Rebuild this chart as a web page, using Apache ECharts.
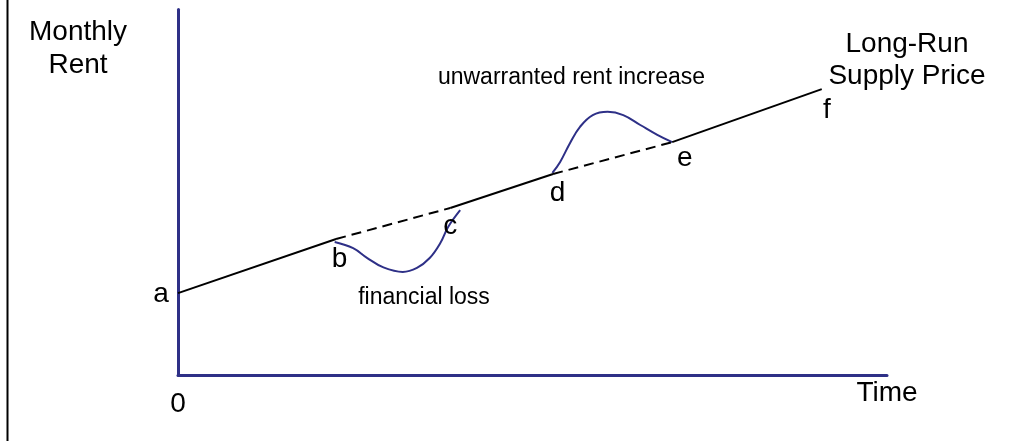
<!DOCTYPE html>
<html>
<head>
<meta charset="utf-8">
<title>Long-Run Supply Price</title>
<script src="https://cdn.jsdelivr.net/npm/echarts@6/dist/echarts.min.js"></script>
<style>
  html, body { margin: 0; padding: 0; background: #fff; }
  #chart { width: 1021px; height: 441px; }
</style>
</head>
<body>
<div id="chart"></div>
<script>
// long-run supply price line: points a..f (time, rent)
const pointNames = ["a", "b", "c", "d", "e", "f"];
const mainX = [0, 22.3, 38.4, 52.9, 69.7, 90.8];
const mainY = [22.4, 37.2, 45.7, 55.0, 63.7, 78.2];

// dip between b and c (financial loss)
const lossX = [22.1, 24.7, 26.7, 28.9, 31.7, 33.7, 35.5, 37.0, 38.1, 39.8];
const lossY = [36.4, 34.7, 32.0, 29.5, 28.2, 29.3, 32.0, 36.1, 40.5, 45.1];

// hump between d and e (unwarranted rent increase)
const riseX = [52.8, 53.9, 55.3, 56.7, 58.5, 60.6, 62.8, 65.2, 67.6, 69.7];
const riseY = [55.3, 58.3, 63.5, 67.9, 71.1, 72.0, 71.1, 68.4, 65.7, 63.7];

const FONT = "'Liberation Sans', Arial, sans-serif";
const NAVY = "#2e3087";

// where each letter sits relative to its point (px)
const LETTER_OFFSETS = [[-17, 1], [3.5, 20], [0, 18], [4.5, 19], [12.5, 16.5], [5, 21]];

const zip = (xs, ys) => xs.map((x, i) => [x, ys[i]]);

function segmentSeries() {
  let out = [];
  for (let i = 0; i < mainX.length - 1; i++) {
    out.push({
      name: "supply " + pointNames[i] + pointNames[i + 1],
      type: "line",
      data: [[mainX[i], mainY[i]], [mainX[i + 1], mainY[i + 1]]],
      showSymbol: false,
      silent: true,
      lineStyle: {
        color: "#000",
        width: 2,
        type: i % 2 === 1 ? [10, 6] : "solid",
      },
      z: 3,
    });
  }
  return out;
}

let myChart = echarts.init(document.getElementById("chart"), null, { renderer: "canvas" });

let option = {
  animation: false,
  grid: { left: 178, right: 134, top: 9.5, bottom: 66, containLabel: false },
  xAxis: {
    type: "value",
    min: 0,
    max: 100,
    interval: 100,
    name: "Time",
    nameLocation: "end",
    nameGap: 0,
    nameTextStyle: {
      fontFamily: FONT,
      fontSize: 28,
      color: "#000",
      align: "center",
      verticalAlign: "top",
      lineHeight: 28,
      padding: [4, 0, 0, 0],
    },
    axisLine: { show: true, lineStyle: { color: NAVY, width: 3 } },
    axisTick: { show: false },
    splitLine: { show: false },
    axisLabel: {
      margin: 15,
      fontFamily: FONT,
      fontSize: 28,
      color: "#000",
      formatter: function (value) {
        return value === 0 ? "0" : "";
      },
    },
  },
  yAxis: {
    type: "value",
    min: 0,
    max: 100,
    axisLine: { show: true, lineStyle: { color: NAVY, width: 3 } },
    axisTick: { show: false },
    splitLine: { show: false },
    axisLabel: { show: false },
  },
  series: [
    ...segmentSeries(),
    {
      name: "financial loss",
      type: "line",
      smooth: 0.4,
      showSymbol: false,
      data: zip(lossX, lossY),
      lineStyle: { color: NAVY, width: 2 },
      z: 2,
    },
    {
      name: "unwarranted rent increase",
      type: "line",
      smooth: 0.4,
      showSymbol: false,
      data: zip(riseX, riseY),
      lineStyle: { color: NAVY, width: 2 },
      z: 2,
    },
    {
      name: "points",
      type: "scatter",
      symbolSize: 0,
      itemStyle: { opacity: 1 },
      data: mainX.map((x, i) => ({
        value: [x, mainY[i]],
        name: pointNames[i],
        label: { offset: LETTER_OFFSETS[i] },
      })),
      label: {
        show: true,
        position: "inside",
        formatter: "{b}",
        fontFamily: FONT,
        fontSize: 28,
        color: "#000",
        opacity: 1,
      },
      z: 4,
    },
  ],
  graphic: [
    {
      type: "line",
      shape: { x1: 7.5, y1: 0, x2: 7.5, y2: 441 },
      style: { stroke: "#000", lineWidth: 2 },
    },
    {
      type: "text",
      style: {
        text: "Monthly\nRent",
        x: 78,
        y: 49,
        align: "center",
        verticalAlign: "middle",
        font: "28px " + FONT,
        lineHeight: 33,
        fill: "#000",
      },
    },
    {
      type: "text",
      style: {
        text: "Long-Run\nSupply Price",
        x: 907,
        y: 60,
        align: "center",
        verticalAlign: "middle",
        font: "28px " + FONT,
        lineHeight: 32,
        fill: "#000",
      },
    },
    {
      type: "text",
      style: {
        text: "unwarranted rent increase",
        x: 571.5,
        y: 78,
        align: "center",
        verticalAlign: "middle",
        font: "23px " + FONT,
        fill: "#000",
      },
    },
    {
      type: "text",
      style: {
        text: "financial loss",
        x: 424,
        y: 298,
        align: "center",
        verticalAlign: "middle",
        font: "23px " + FONT,
        fill: "#000",
      },
    },
  ],
};

option && myChart.setOption(option);
</script>
</body>
</html>
